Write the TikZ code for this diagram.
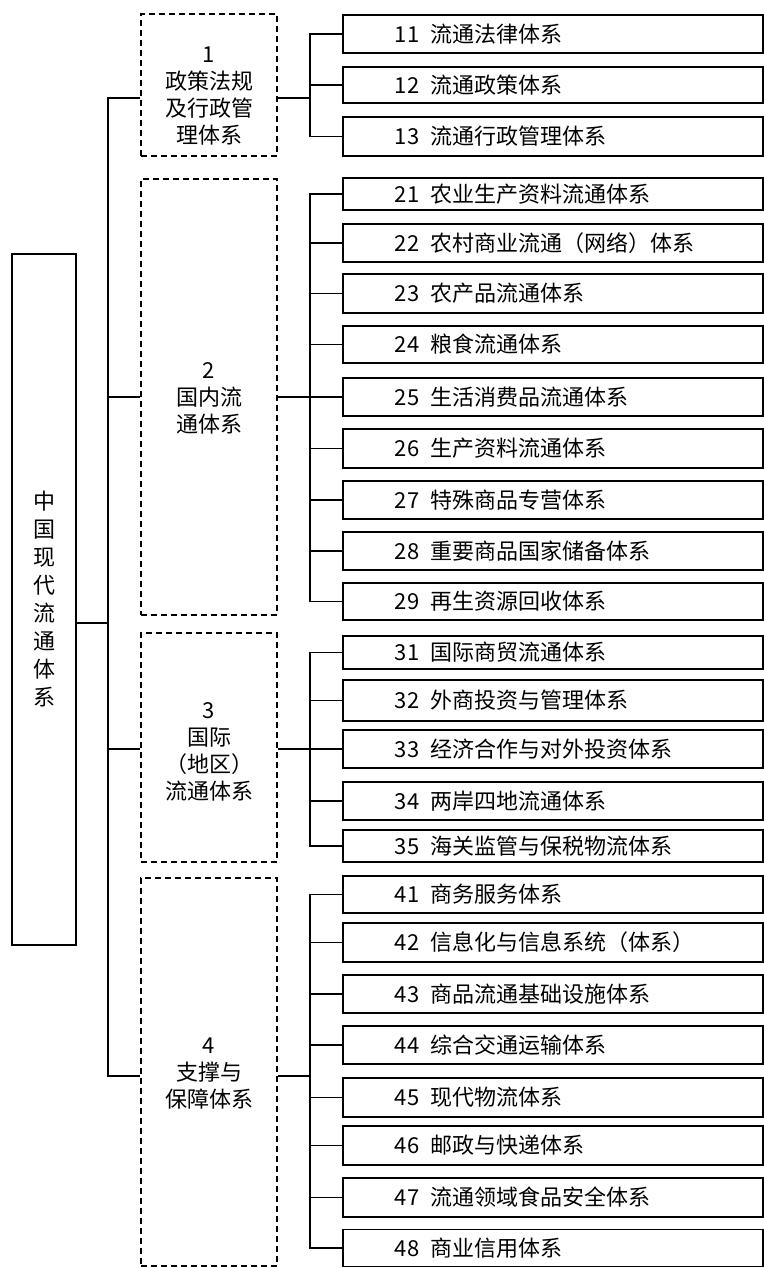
\documentclass[tikz,border=0pt]{standalone}
\usepackage{fontspec}
\setmainfont{Noto Sans CJK SC}

\begin{document}
\begin{tikzpicture}[x=1pt,y=-1pt,
        every node/.style={font=\fontsize{22}{27}\selectfont},
        item/.style={draw,line width=1.9pt,anchor=west,minimum width=420pt,minimum height=38pt,
            inner xsep=52pt,inner ysep=0pt,text width=316pt,align=left},
        groupbox/.style={draw,dash pattern=on 6pt off 4pt,line width=1.6pt,minimum width=136pt,inner sep=0pt},
        link/.style={line width=1.9pt}]

            %\draw [help lines] (0,0) grid (763,1268);
            \useasboundingbox (0,0) rectangle (763,1268);

            % root
            \path (44,599.5) node (root) [draw,line width=1.9pt,minimum width=64pt,minimum height=691pt,
                inner sep=0pt,align=center,font=\fontsize{22}{28}\selectfont] {中\\国\\现\\代\\流\\通\\体\\系};

            % groups
            \path   (209,85)   node (g1box) [groupbox,minimum height=142pt] {}
                    (209,397)  node (g2box) [groupbox,minimum height=436pt] {}
                    (209,747.5) node (g3box) [groupbox,minimum height=229pt] {}
                    (209,1072) node (g4box) [groupbox,minimum height=388pt] {};

            \path   (209,96)   node (g1) [align=center] {1\\政策法规\\及行政管\\理体系}
                    (209,398)  node (g2) [align=center] {2\\国内流\\通体系}
                    (209,752)  node (g3) [align=center] {3\\国际\\（地区）\\流通体系}
                    (209,1074) node (g4) [align=center] {4\\支撑与\\保障体系};

            % items
            \path   (342,34)    node (i11) [item] {11\enspace 流通法律体系}
                    (342,85)    node (i12) [item,minimum height=36pt] {12\enspace 流通政策体系}
                    (342,136.5) node (i13) [item,minimum height=39pt] {13\enspace 流通行政管理体系};

            \path   (342,194)   node (i21) [item,minimum height=32pt] {21\enspace 农业生产资料流通体系}
                    (342,243)   node (i22) [item] {22\enspace 农村商业流通（网络）体系}
                    (342,293.5) node (i23) [item,minimum height=39pt] {23\enspace 农产品流通体系}
                    (342,344.5) node (i24) [item,minimum height=37pt] {24\enspace 粮食流通体系}
                    (342,397)   node (i25) [item] {25\enspace 生活消费品流通体系}
                    (342,448.5) node (i26) [item,minimum height=39pt] {26\enspace 生产资料流通体系}
                    (342,500)   node (i27) [item] {27\enspace 特殊商品专营体系}
                    (342,551)   node (i28) [item] {28\enspace 重要商品国家储备体系}
                    (342,601.5) node (i29) [item,minimum height=37pt] {29\enspace 再生资源回收体系};

            \path   (342,652.5) node (i31) [item,minimum height=33pt] {31\enspace 国际商贸流通体系}
                    (342,700.5) node (i32) [item,minimum height=41pt] {32\enspace 外商投资与管理体系}
                    (342,749)   node (i33) [item] {33\enspace 经济合作与对外投资体系}
                    (342,801)   node (i34) [item] {34\enspace 两岸四地流通体系}
                    (342,846)   node (i35) [item,minimum height=32pt] {35\enspace 海关监管与保税物流体系};

            \path   (342,894.5) node (i41) [item,minimum height=37pt] {41\enspace 商务服务体系}
                    (342,942.5) node (i42) [item,minimum height=39pt] {42\enspace 信息化与信息系统（体系）}
                    (342,994)   node (i43) [item] {43\enspace 商品流通基础设施体系}
                    (342,1045)  node (i44) [item] {44\enspace 综合交通运输体系}
                    (342,1097.5) node (i45) [item,minimum height=39pt] {45\enspace 现代物流体系}
                    (342,1145.5) node (i46) [item,minimum height=39pt] {46\enspace 邮政与快递体系}
                    (342,1197.5) node (i47) [item,minimum height=39pt] {47\enspace 流通领域食品安全体系}
                    (342,1248)  node (i48) [item,minimum height=37pt] {48\enspace 商业信用体系};

            % junctions
            \coordinate (trunk) at (108,623);
            \coordinate (b1) at (310,98);
            \coordinate (b2) at (310,397);
            \coordinate (b3) at (310,749);
            \coordinate (b4) at (310,1076);

            % root to groups
            \draw[link] (root.east |- trunk) -- (trunk);
            \draw[link] (g1box.west |- b1) -| (trunk) |- (g4box.west |- b4);
            \draw[link] (trunk |- b2) -- (g2box.west |- b2);
            \draw[link] (trunk |- b3) -- (g3box.west |- b3);

            % groups to items
            \draw[link] (g1box.east |- b1) -- (b1);
            \draw[link] (i11.west) -| (b1) |- (i13.west);
            \draw[link] (b1 |- i12) -- (i12.west);

            \draw[link] (g2box.east |- b2) -- (b2);
            \draw[link] (i21.west) -| (b2) |- (i29.west);
            \draw[link] (b2 |- i22) -- (i22.west) (b2 |- i23) -- (i23.west)
                        (b2 |- i24) -- (i24.west) (b2 |- i25) -- (i25.west)
                        (b2 |- i26) -- (i26.west) (b2 |- i27) -- (i27.west)
                        (b2 |- i28) -- (i28.west);

            \draw[link] (g3box.east |- b3) -- (b3);
            \draw[link] (i31.west) -| (b3) |- (i35.west);
            \draw[link] (b3 |- i32) -- (i32.west) (b3 |- i33) -- (i33.west)
                        (b3 |- i34) -- (i34.west);

            \draw[link] (g4box.east |- b4) -- (b4);
            \draw[link] (i41.west) -| (b4) |- (i48.west);
            \draw[link] (b4 |- i42) -- (i42.west) (b4 |- i43) -- (i43.west)
                        (b4 |- i44) -- (i44.west) (b4 |- i45) -- (i45.west)
                        (b4 |- i46) -- (i46.west) (b4 |- i47) -- (i47.west);
        \end{tikzpicture}
\end{document}
